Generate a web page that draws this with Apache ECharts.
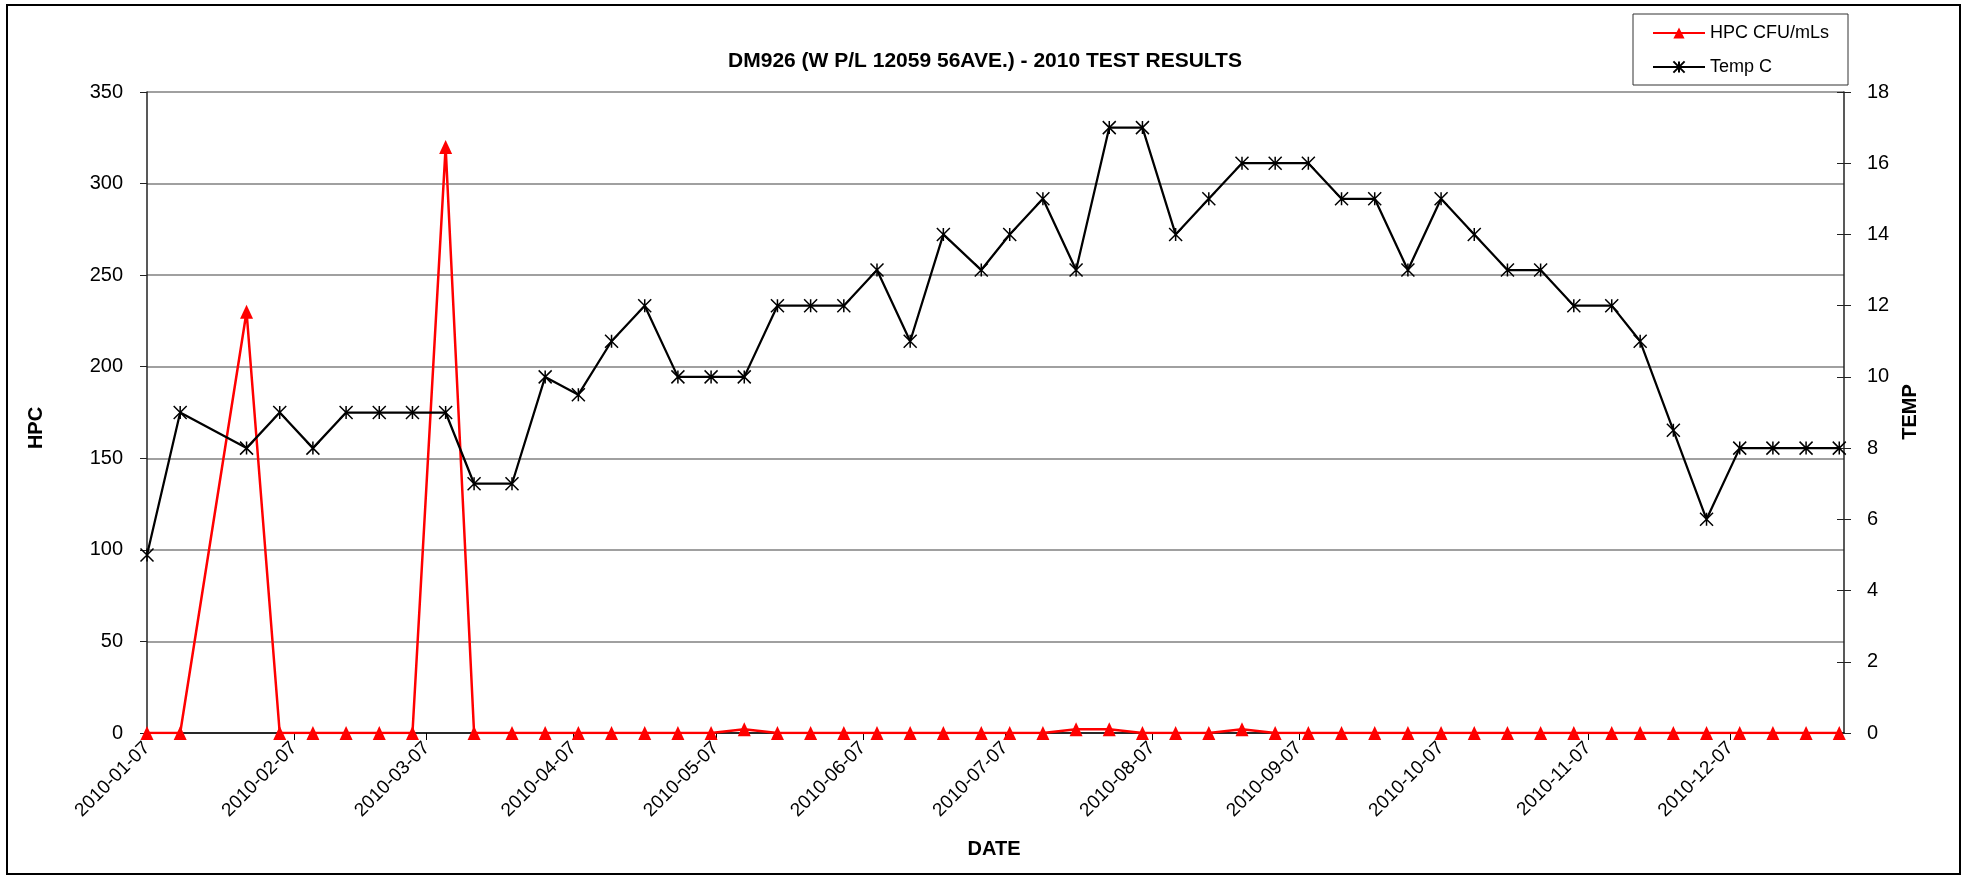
<!DOCTYPE html>
<html>
<head>
<meta charset="utf-8">
<title>DM926 (W P/L 12059 56AVE.) - 2010 TEST RESULTS</title>
<script src="https://cdn.jsdelivr.net/npm/echarts@6/dist/echarts.min.js"></script>
<style>
  html, body { margin: 0; padding: 0; background: #ffffff; }
  #chart { width: 1970px; height: 876px; }
</style>
</head>
<body>
<div id="chart"></div>
<script>
// Weekly sampling dates at DM926
const sampleDates = [
  '2010-01-07', '2010-01-14', '2010-01-28', '2010-02-04', '2010-02-11', '2010-02-18',
  '2010-02-25', '2010-03-04', '2010-03-11', '2010-03-17', '2010-03-25', '2010-04-01',
  '2010-04-08', '2010-04-15', '2010-04-22', '2010-04-29', '2010-05-06', '2010-05-13',
  '2010-05-20', '2010-05-27', '2010-06-03', '2010-06-10', '2010-06-17', '2010-06-24',
  '2010-07-02', '2010-07-08', '2010-07-15', '2010-07-22', '2010-07-29', '2010-08-05',
  '2010-08-12', '2010-08-19', '2010-08-26', '2010-09-02', '2010-09-09', '2010-09-16',
  '2010-09-23', '2010-09-30', '2010-10-07', '2010-10-14', '2010-10-21', '2010-10-28',
  '2010-11-04', '2010-11-12', '2010-11-18', '2010-11-25', '2010-12-02', '2010-12-09',
  '2010-12-16', '2010-12-23', '2010-12-30'
];

// Heterotrophic plate count, CFU/mL
const hpcCounts = [
  0, 0, 230, 0, 0, 0,
  0, 0, 320, 0, 0, 0,
  0, 0, 0, 0, 0, 2,
  0, 0, 0, 0, 0, 0,
  0, 0, 0, 2, 2, 0,
  0, 0, 2, 0, 0, 0,
  0, 0, 0, 0, 0, 0,
  0, 0, 0, 0, 0, 0,
  0, 0, 0
];

// Water temperature, degrees C
const tempC = [
  5, 9, 8, 9, 8, 9,
  9, 9, 9, 7, 7, 10,
  9.5, 11, 12, 10, 10, 10,
  12, 12, 12, 13, 11, 14,
  13, 14, 15, 13, 17, 17,
  14, 15, 16, 16, 16, 15,
  15, 13, 15, 14, 13, 13,
  12, 12, 11, 8.5, 6, 8,
  8, 8, 8
];

// Date axis labels (the 7th of each month)
const dateTickLabels = [
  '2010-01-07', '2010-02-07', '2010-03-07', '2010-04-07', '2010-05-07', '2010-06-07',
  '2010-07-07', '2010-08-07', '2010-09-07', '2010-10-07', '2010-11-07', '2010-12-07'
];

const hpcTicks = [0, 50, 100, 150, 200, 250, 300, 350];
const tempTicks = [0, 2, 4, 6, 8, 10, 12, 14, 16, 18];

const axisStart = '2010-01-07';
const axisEnd = '2010-12-31';

const FONT = '"Liberation Sans", Arial, Helvetica, sans-serif';

// dates are handled as UTC day timestamps on a linear axis
const toTime = s => Date.UTC(+s.slice(0, 4), +s.slice(5, 7) - 1, +s.slice(8, 10));
const pad2 = n => (n < 10 ? '0' : '') + n;
const fmtDate = v => {
  const d = new Date(v);
  return d.getUTCFullYear() + '-' + pad2(d.getUTCMonth() + 1) + '-' + pad2(d.getUTCDate());
};
const tickTimes = dateTickLabels.map(toTime);

const hpcData = sampleDates.map((d, i) => [toTime(d), hpcCounts[i]]);
const tempData = sampleDates.map((d, i) => [toTime(d), tempC[i]]);

// Asterisk-style marker (X with a vertical stroke)
const starPath = 'path://M0,0L10,10M10,0L0,10M5,0L5,10';

const chart = echarts.init(document.getElementById('chart'), null, { renderer: 'canvas' });

chart.setOption({
  animation: false,
  backgroundColor: '#ffffff',
  textStyle: { fontFamily: FONT, color: '#000' },
  title: {
    text: 'DM926 (W P/L 12059 56AVE.) - 2010 TEST RESULTS',
    left: 'center',
    top: 46,
    textStyle: { fontFamily: FONT, fontSize: 21, fontWeight: 'bold', color: '#000' }
  },
  legend: {
    orient: 'vertical',
    left: 1633,
    top: 14,
    padding: [10, 19, 9, 19],
    itemGap: 16,
    itemWidth: 52,
    itemHeight: 14,
    borderColor: '#333',
    borderWidth: 1,
    backgroundColor: '#fff',
    textStyle: { fontFamily: FONT, fontSize: 18, color: '#000' },
    data: ['HPC CFU/mLs', 'Temp C']
  },
  grid: { left: 147, right: 126, top: 92, bottom: 143, containLabel: false },
  xAxis: {
    type: 'value',
    min: toTime(axisStart),
    max: toTime(axisEnd),
    scale: true,
    splitLine: { show: false },
    axisLine: { show: true, onZero: false, lineStyle: { color: '#000', width: 1.5 } },
    axisTick: { show: true, length: 7, customValues: tickTimes, lineStyle: { color: '#000', width: 1 } },
    axisLabel: {
      customValues: tickTimes,
      rotate: 45,
      margin: 12,
      fontSize: 19,
      fontFamily: FONT,
      color: '#000',
      showMinLabel: true,
      formatter: v => fmtDate(v)
    }
  },
  yAxis: [
    {
      type: 'value',
      position: 'left',
      min: hpcTicks[0],
      max: hpcTicks[hpcTicks.length - 1],
      interval: 50,
      axisLine: { show: true, lineStyle: { color: '#222', width: 1.5 } },
      axisTick: { show: true, length: 7, lineStyle: { color: '#222' } },
      axisLabel: { fontSize: 20, fontFamily: FONT, color: '#000', margin: 24 },
      splitLine: { show: true, lineStyle: { color: '#808080', width: 1.5 } }
    },
    {
      type: 'value',
      position: 'right',
      offset: 0,
      min: tempTicks[0],
      max: tempTicks[tempTicks.length - 1],
      interval: 2,
      axisLine: { show: true, lineStyle: { color: '#222', width: 1.5 } },
      axisTick: { show: true, length: 7, lineStyle: { color: '#222' } },
      axisLabel: { fontSize: 20, fontFamily: FONT, color: '#000', margin: 23 },
      splitLine: { show: false }
    },
    {
      // inner half of the crossing tick marks on the temperature axis
      type: 'value',
      position: 'right',
      offset: 0,
      min: tempTicks[0],
      max: tempTicks[tempTicks.length - 1],
      interval: 2,
      axisLine: { show: false },
      axisTick: { show: true, inside: true, length: 7, lineStyle: { color: '#222' } },
      axisLabel: { show: false },
      splitLine: { show: false }
    }
  ],
  series: [
    {
      name: 'HPC CFU/mLs',
      type: 'line',
      yAxisIndex: 0,
      data: hpcData,
      z: 3,
      symbol: 'triangle',
      symbolSize: [13, 14],
      lineStyle: { color: '#ff0000', width: 2.5 },
      itemStyle: { color: '#ff0000' }
    },
    {
      name: 'Temp C',
      type: 'line',
      yAxisIndex: 1,
      data: tempData,
      z: 4,
      symbol: starPath,
      symbolSize: [13, 13],
      lineStyle: { color: '#000', width: 2.25 },
      itemStyle: { color: '#000', borderColor: '#000', borderWidth: 1.5 }
    }
  ],
  graphic: [
    {
      type: 'rect',
      silent: true,
      z: -10,
      shape: { x: 7, y: 5, width: 1953, height: 869 },
      style: { fill: 'none', stroke: '#000', lineWidth: 2 }
    },
    {
      type: 'text',
      x: 36, y: 428,
      rotation: Math.PI / 2,
      style: { text: 'HPC', font: 'bold 20px ' + FONT, fill: '#000', textAlign: 'center', textVerticalAlign: 'middle' }
    },
    {
      type: 'text',
      x: 1910, y: 412,
      rotation: Math.PI / 2,
      style: { text: 'TEMP', font: 'bold 20px ' + FONT, fill: '#000', textAlign: 'center', textVerticalAlign: 'middle' }
    },
    {
      type: 'text',
      x: 994, y: 849,
      style: { text: 'DATE', font: 'bold 20px ' + FONT, fill: '#000', textAlign: 'center', textVerticalAlign: 'middle' }
    }
  ]
});
</script>
</body>
</html>
